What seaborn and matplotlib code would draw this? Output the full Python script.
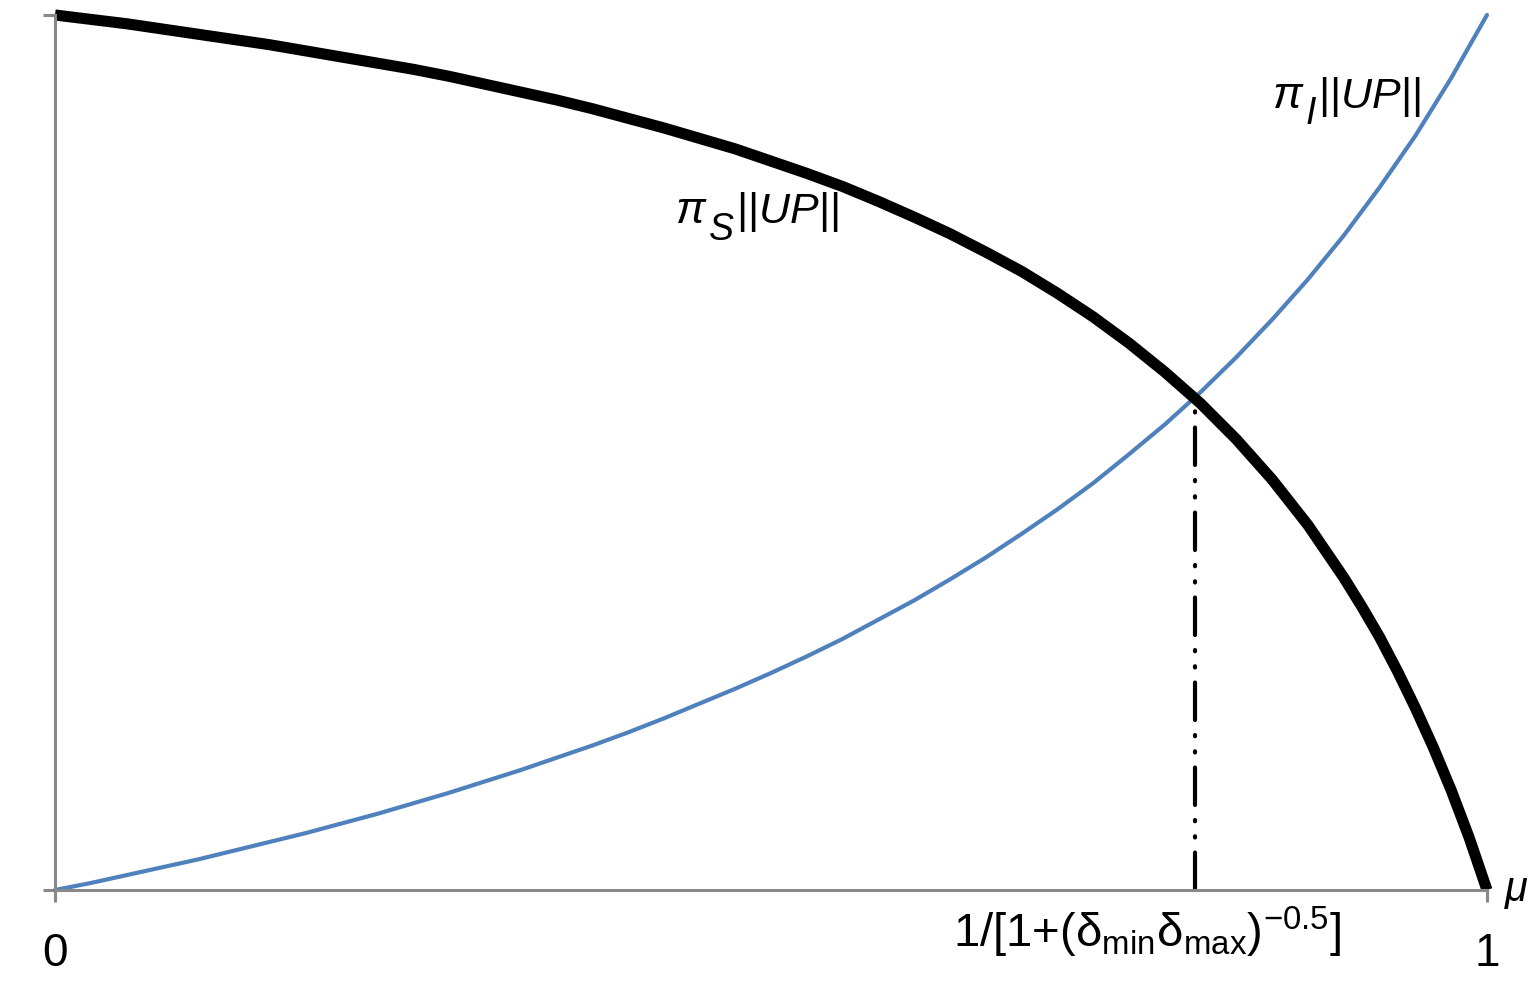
import matplotlib.pyplot as plt
import seaborn as sns

# values (x = mu, y = share of ||UP||)
mu_i = [0.0, 0.025, 0.05, 0.075, 0.1, 0.125, 0.15, 0.175, 0.2, 0.225, 0.25, 0.275,
        0.3, 0.325, 0.35, 0.375, 0.4, 0.425, 0.45, 0.475, 0.5, 0.525, 0.55, 0.575,
        0.6, 0.625, 0.65, 0.675, 0.7, 0.725, 0.75, 0.775, 0.8, 0.825, 0.85, 0.875,
        0.9, 0.925, 0.95, 0.975, 1.0]
pi_i = [0.0, 0.008, 0.017, 0.026, 0.035, 0.045, 0.055, 0.065, 0.076, 0.087, 0.099,
        0.111, 0.124, 0.137, 0.151, 0.165, 0.180, 0.196, 0.213, 0.230, 0.248, 0.267,
        0.287, 0.309, 0.331, 0.355, 0.380, 0.407, 0.435, 0.465, 0.498, 0.532, 0.569,
        0.609, 0.652, 0.698, 0.748, 0.803, 0.862, 0.928, 1.0]

mu_s = [0.0, 0.025, 0.05, 0.075, 0.1, 0.125, 0.15, 0.175, 0.2, 0.225, 0.25, 0.275,
        0.3, 0.325, 0.35, 0.375, 0.4, 0.425, 0.45, 0.475, 0.5, 0.525, 0.55, 0.575,
        0.6, 0.625, 0.65, 0.675, 0.7, 0.725, 0.75, 0.775, 0.8, 0.825, 0.85, 0.875,
        0.9, 0.9125, 0.925, 0.9375, 0.95, 0.9625, 0.975, 0.9875, 1.0]
pi_s = [1.0, 0.995, 0.990, 0.984, 0.978, 0.972, 0.966, 0.959, 0.952, 0.945, 0.938,
        0.930, 0.921, 0.912, 0.903, 0.893, 0.882, 0.871, 0.859, 0.847, 0.833, 0.819,
        0.804, 0.787, 0.769, 0.750, 0.729, 0.707, 0.682, 0.655, 0.625, 0.592, 0.556,
        0.515, 0.469, 0.417, 0.357, 0.324, 0.289, 0.250, 0.208, 0.163, 0.114, 0.060,
        0.0]

cross_mu = 0.796
cross_val = 0.563

sns.set_style('white')
plt.rcParams['font.family'] = ['Liberation Sans', 'DejaVu Sans']
plt.rcParams['mathtext.fontset'] = 'custom'
plt.rcParams['mathtext.rm'] = 'Liberation Sans'
plt.rcParams['mathtext.it'] = 'Liberation Sans:italic'
plt.rcParams['mathtext.bf'] = 'Liberation Sans:bold'
plt.rcParams['text.color'] = 'black'
plt.rcParams['xtick.color'] = 'black'

grey = '#898989'
fig = plt.figure(figsize=(15.33, 9.83), dpi=100)
ax = fig.add_axes([55 / 1533, 93 / 983, 1432 / 1533, 875 / 983])

sns.lineplot(x=mu_i, y=pi_i, ax=ax, color='#4F81BD', linewidth=3, clip_on=False)
sns.lineplot(x=mu_s, y=pi_s, ax=ax, color='black', linewidth=8, clip_on=False,
             solid_capstyle='butt')
ax.plot([cross_mu, cross_mu], [0, cross_val], color='black', linewidth=3,
        dashes=(9, 3.6, 0.3, 3.6, 0.3, 3.6), dash_capstyle='round', zorder=1)

ax.set_xlim(0, 1)
ax.set_ylim(0, 1)
ax.set_xticks([0, 1])
ax.set_xticklabels(['0', '1'], fontsize=33)
ax.set_yticks([0, 1])
ax.set_yticklabels([])
ax.tick_params(axis='both', direction='out', length=8.5, width=2.2, color=grey,
               bottom=True, left=True, labelcolor='black')
ax.tick_params(axis='x', pad=22)
for side in ['top', 'right']:
    ax.spines[side].set_visible(False)
for side in ['left', 'bottom']:
    ax.spines[side].set_color(grey)
    ax.spines[side].set_linewidth(2.2)

ax.text(0.763, -0.066, r'1/[1+(δ$_{\mathregular{min}}$δ$_{\mathregular{max}}$)$^{\mathregular{-0.5}}$]',
        fontsize=34, ha='center', va='baseline', clip_on=False)
ax.text(1.012, -0.013, r'$\mu$', fontsize=30, ha='left', va='baseline', clip_on=False)


def curve_label(x, y, sub):
    # pi, a large lowered subscript, then ||UP|| back on the pi baseline
    t_pi = ax.text(x, y, r'$\pi$', fontsize=32, ha='left', va='baseline')
    t_sub = ax.annotate('$' + sub + '$', xy=(1, y), xycoords=(t_pi, 'data'),
                        xytext=(0.5, -12), textcoords='offset points',
                        fontsize=27, ha='left', va='baseline')
    ax.annotate(r'||$UP$||', xy=(1, y), xycoords=(t_sub, 'data'), xytext=(0.5, 0),
                textcoords='offset points', fontsize=31, ha='left', va='baseline')


curve_label(0.433, 0.762, 'S')
curve_label(0.850, 0.894, 'I')

fig.savefig('out.png', dpi=100)
